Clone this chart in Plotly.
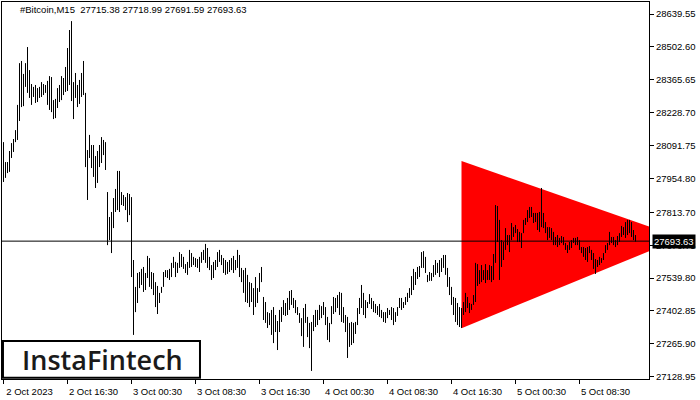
import plotly.graph_objects as go

# ---- data (M15 bars, high/low) ----
highs = [
    28106, 28023, 28023, 28069, 28102, 28119, 28156, 28261, 28435, 28444,
    28390, 28435, 28502, 28406, 28348, 28336, 28344, 28331, 28336, 28356,
    28348, 28344, 28361, 28381, 28377, 28281, 28286, 28331, 28344, 28381,
    28373, 28419, 28498, 28573, 28610, 28356, 28394, 28344, 28365, 28394,
    28444, 28311, 28073, 28136, 28094, 28094, 28048, 28069, 28094, 28127,
    28115, 28106, 27898, 27794, 27815, 27873, 27911, 27986, 27986, 27898,
    27886, 27877, 27894, 27890, 27877, 27615, 27503, 27561, 27565, 27578,
    27586, 27561, 27632, 27623, 27565, 27561, 27523, 27507, 27478, 27503,
    27565, 27573, 27573, 27578, 27603, 27628, 27607, 27603, 27648, 27640,
    27628, 27598, 27607, 27657, 27644, 27628, 27623, 27619, 27628, 27648,
    27657, 27682, 27665, 27628, 27594, 27607, 27615, 27648, 27657, 27636,
    27623, 27615, 27607, 27615, 27623, 27632, 27615, 27657, 27636, 27582,
    27573, 27582, 27553, 27523, 27519, 27498, 27544, 27498, 27561, 27586,
    27461, 27440, 27398, 27394, 27407, 27419, 27386, 27361, 27407, 27419,
    27448, 27436, 27457, 27486, 27490, 27457, 27448, 27419, 27394, 27373,
    27415, 27432, 27378, 27353, 27357, 27386, 27407, 27407, 27428, 27423,
    27440, 27419, 27378, 27353, 27423, 27461, 27457, 27469, 27482, 27478,
    27419, 27386, 27378, 27353, 27357, 27353, 27357, 27415, 27457, 27511,
    27478, 27448, 27440, 27473, 27457, 27444, 27432, 27423, 27432, 27407,
    27398, 27398, 27415, 27407, 27419, 27415, 27398, 27419, 27457, 27457,
    27440, 27461, 27478, 27498, 27548, 27578, 27565, 27586, 27590, 27648,
    27652, 27628, 27553, 27565, 27561, 27594, 27615, 27603, 27615, 27623,
    27636, 27636, 27582, 27544, 27503, 27461, 27457, 27436, 27419, 27415,
    27440, 27478, 27461, 27436, 27432, 27469, 27603, 27598, 27573, 27594,
    27573, 27598, 27573, 27594, 27590, 27640, 27844, 27840, 27782, 27698,
    27690, 27748, 27719, 27719, 27769, 27752, 27761, 27744, 27732, 27727,
    27782, 27790, 27823, 27836, 27836, 27811, 27811, 27811, 27815, 27915,
    27811, 27773, 27752, 27752, 27748, 27732, 27711, 27719, 27707, 27715,
    27711, 27686, 27677, 27690, 27698, 27707, 27707, 27711, 27698, 27669,
    27669, 27665, 27669, 27673, 27657, 27644, 27619, 27615, 27628, 27623,
    27644, 27677, 27686, 27732, 27711, 27711, 27698, 27715, 27727, 27757,
    27752, 27773, 27782, 27782, 27773, 27740, 27718.99,
]
lows = [
    27940, 27957, 27977, 27982, 28040, 28065, 28106, 28115, 28194, 28252,
    28256, 28336, 28311, 28290, 28261, 28294, 28269, 28273, 28290, 28294,
    28302, 28311, 28261, 28240, 28231, 28202, 28206, 28248, 28273, 28281,
    28302, 28315, 28319, 28344, 28277, 28202, 28290, 28252, 28265, 28294,
    28302, 28002, 27865, 28040, 27998, 27961, 27915, 27936, 28002, 28019,
    28052, 27990, 27677, 27698, 27644, 27748, 27815, 27823, 27815, 27844,
    27840, 27823, 27773, 27802, 27544, 27303, 27398, 27436, 27498, 27511,
    27482, 27490, 27540, 27503, 27494, 27469, 27419, 27390, 27436, 27478,
    27503, 27544, 27540, 27532, 27544, 27582, 27544, 27561, 27582, 27586,
    27578, 27561, 27553, 27582, 27586, 27594, 27586, 27582, 27565, 27603,
    27615, 27603, 27582, 27573, 27532, 27540, 27573, 27586, 27607, 27594,
    27561, 27553, 27557, 27565, 27573, 27561, 27573, 27582, 27544, 27523,
    27478, 27440, 27436, 27419, 27440, 27386, 27419, 27436, 27482, 27523,
    27365, 27353, 27332, 27344, 27303, 27269, 27315, 27240, 27315, 27357,
    27386, 27382, 27386, 27407, 27428, 27415, 27394, 27386, 27353, 27298,
    27253, 27353, 27294, 27248, 27153, 27319, 27336, 27344, 27365, 27373,
    27386, 27344, 27282, 27273, 27348, 27390, 27398, 27415, 27386, 27357,
    27353, 27315, 27207, 27253, 27261, 27269, 27307, 27344, 27390, 27415,
    27386, 27373, 27415, 27432, 27411, 27398, 27394, 27386, 27378, 27373,
    27357, 27353, 27373, 27386, 27365, 27344, 27357, 27382, 27415, 27407,
    27415, 27428, 27440, 27457, 27469, 27490, 27511, 27536, 27544, 27582,
    27582, 27561, 27523, 27528, 27528, 27544, 27553, 27561, 27544, 27565,
    27582, 27553, 27503, 27469, 27428, 27386, 27357, 27344, 27336, 27332,
    27386, 27398, 27415, 27394, 27407, 27428, 27440, 27507, 27515, 27523,
    27532, 27519, 27532, 27532, 27523, 27532, 27603, 27690, 27532, 27586,
    27615, 27657, 27677, 27648, 27698, 27711, 27727, 27690, 27690, 27665,
    27727, 27761, 27773, 27790, 27794, 27769, 27773, 27740, 27732, 27752,
    27748, 27727, 27698, 27707, 27698, 27677, 27677, 27669, 27677, 27686,
    27677, 27657, 27644, 27657, 27665, 27686, 27677, 27677, 27657, 27644,
    27628, 27615, 27607, 27644, 27615, 27578, 27557, 27586, 27594, 27603,
    27615, 27644, 27657, 27677, 27686, 27677, 27669, 27677, 27690, 27711,
    27719, 27707, 27719, 27727, 27711, 27698, 27691.59,
]

symbol = "#Bitcoin,M15"
last_ohlc = [27715.38, 27718.99, 27691.59, 27693.63]
last_price = 27693.63

x_tick_bars = [0, 32, 64, 96, 128, 160, 192, 224, 256, 288]
x_tick_labels = ["2 Oct 2023", "2 Oct 16:30", "3 Oct 00:30", "3 Oct 08:30",
                 "3 Oct 16:30", "4 Oct 00:30", "4 Oct 08:30", "4 Oct 16:30",
                 "5 Oct 00:30", "5 Oct 08:30"]
y_ticks = [28639.55, 28502.60, 28365.65, 28228.70, 28091.75, 27954.80,
           27813.70, 27676.75, 27539.80, 27402.85, 27265.90, 27128.95]

# symmetrical triangle pattern (bar index, price)
tri_bars = [229, 229, 339]
tri_prices = [28027, 27331, 27707]

# ---- figure ----
n = len(highs)
bx, by = [], []
for i in range(n):
    bx += [i, i, None]
    by += [lows[i], highs[i], None]

FONT = "Liberation Sans"
fig = go.Figure()
fig.add_trace(go.Scatter(x=tri_bars, y=tri_prices, fill="toself", mode="lines",
                         fillcolor="#FF0000", line=dict(color="#FF0000", width=0),
                         hoverinfo="skip", showlegend=False))
fig.add_trace(go.Scatter(x=bx, y=by, mode="lines",
                         line=dict(color="black", width=1),
                         hoverinfo="skip", showlegend=False))

fig.add_hline(y=last_price, line=dict(color="black", width=1))

fig.update_layout(
    width=700, height=400,
    margin=dict(l=2, r=51, t=2, b=21, pad=0),
    paper_bgcolor="white", plot_bgcolor="white",
    showlegend=False,
    font=dict(family=FONT, size=9.5, color="black"),
    xaxis=dict(range=[-0.75, 322.75], tickvals=x_tick_bars, ticktext=x_tick_labels,
               ticks="outside", ticklen=4, tickcolor="black", showgrid=False,
               zeroline=False, showline=True, mirror=True, linecolor="black",
               linewidth=1, ticklabelshift=26, tickfont=dict(size=9.5, family=FONT)),
    yaxis=dict(range=[27119.4, 28689.6], side="right", tickvals=y_ticks,
               ticktext=[f"{v:.2f}" for v in y_ticks],
               ticks="outside", ticklen=4, tickcolor="black", showgrid=False,
               zeroline=False, showline=True, mirror=True, linecolor="black",
               linewidth=1, tickfont=dict(size=9.5, family=FONT)),
)

# header text
fig.add_annotation(xref="paper", yref="paper", x=0.024, y=0.979,
                   xanchor="left", yanchor="middle", showarrow=False,
                   text=f"{symbol}  " + " ".join(f"{v:.2f}" for v in last_ohlc),
                   font=dict(family=FONT, size=9.5, color="black"))

# current price label
fig.add_annotation(xref="paper", yref="y", x=1.004, y=last_price,
                   xanchor="left", yanchor="middle", showarrow=False,
                   text=f"{last_price:.2f}", bgcolor="black", borderpad=1,
                   font=dict(family=FONT, size=9.5, color="white"))

# logo box
fig.add_shape(type="rect", xref="paper", yref="paper", x0=0.0015, x1=0.306,
              y0=0.003, y1=0.101, line=dict(color="black", width=2),
              fillcolor="white", layer="above")
fig.add_annotation(xref="paper", yref="paper", x=0.155, y=0.052,
                   xanchor="center", yanchor="middle", showarrow=False,
                   text="InstaFintech",
                   font=dict(family="Open Sans", size=27, color="#1a1a1a", weight=600))

fig.write_html("out.html", config={"displayModeBar": False},
               post_script="document.body.style.margin='0';document.body.style.padding='0';")
